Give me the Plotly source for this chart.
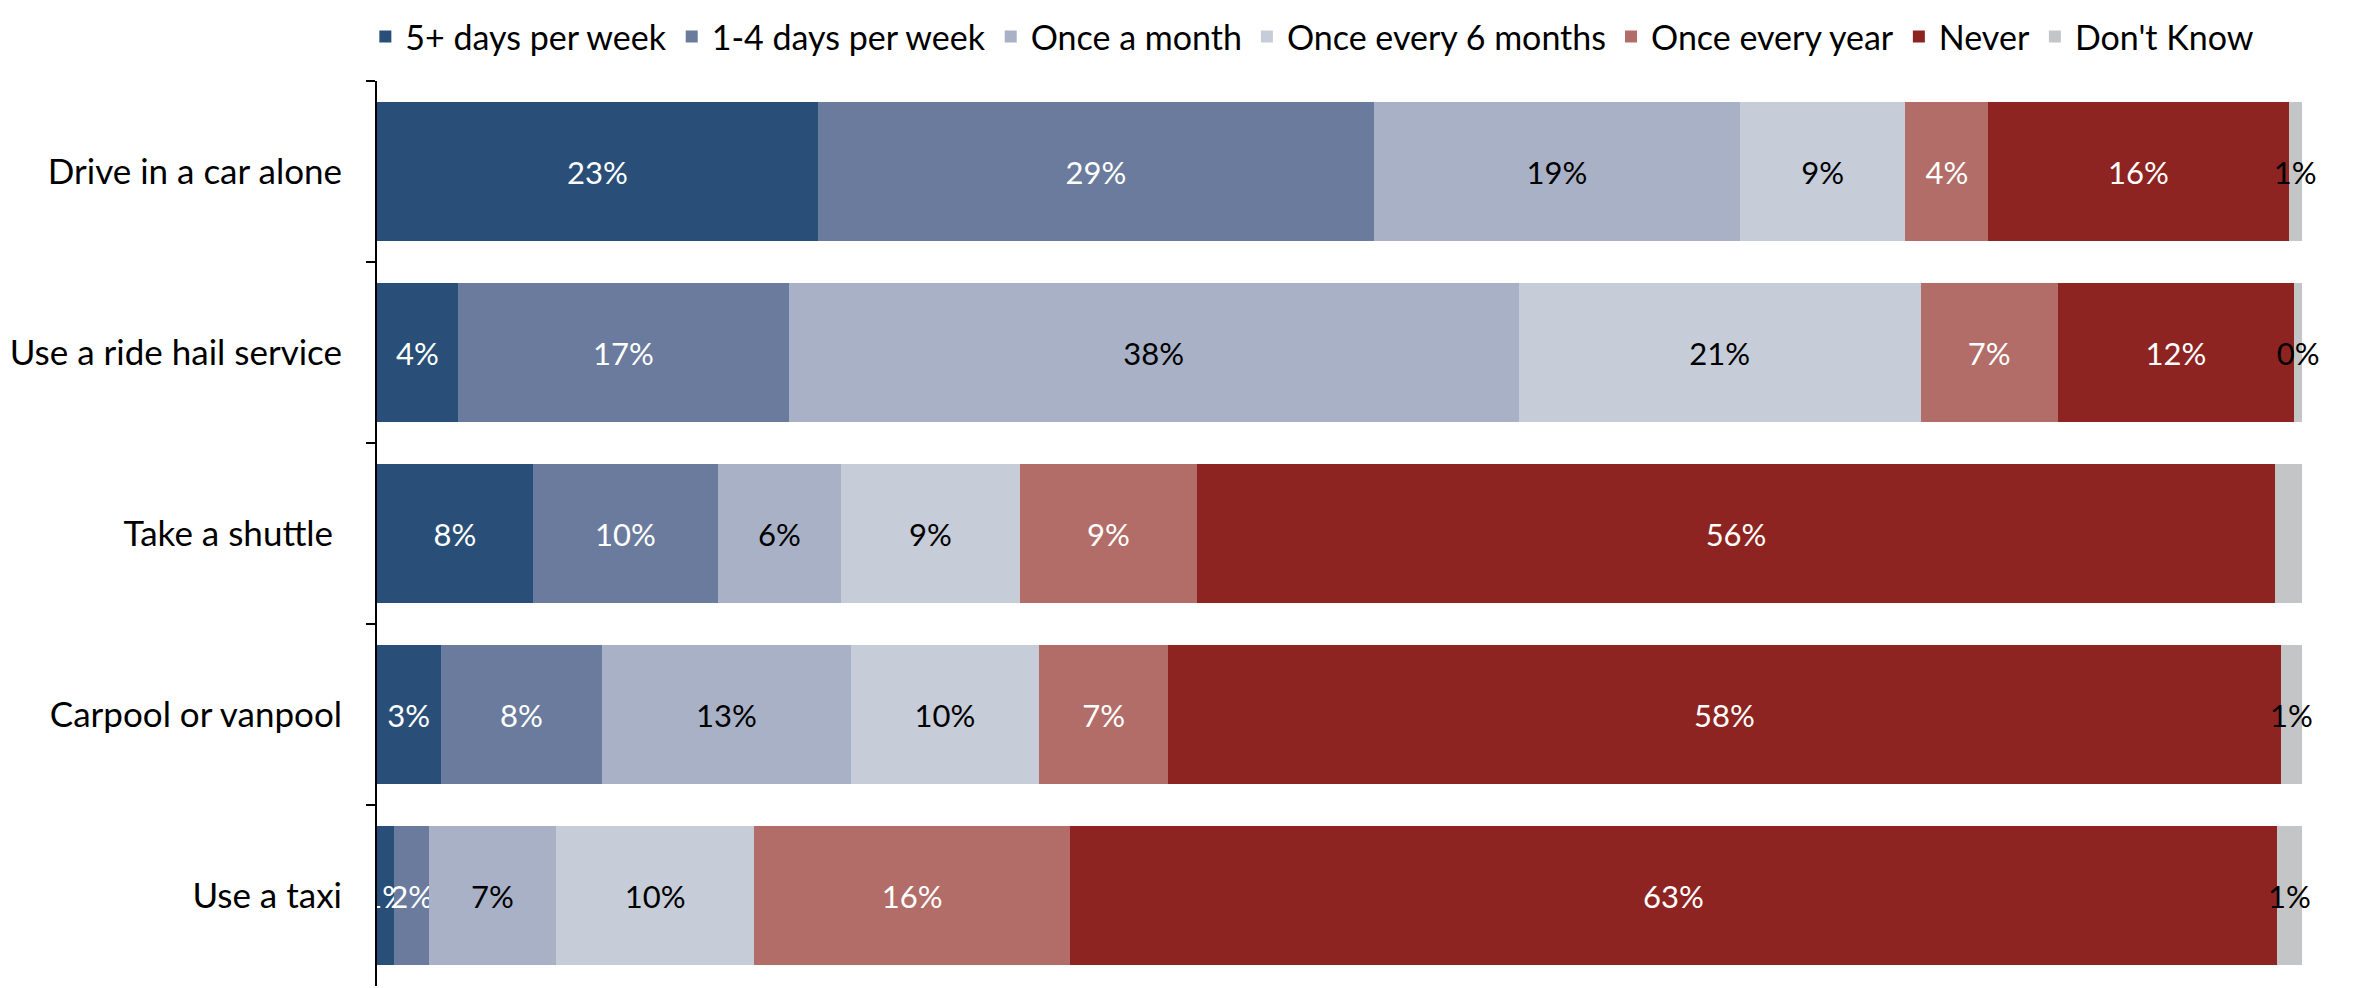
import plotly.graph_objects as go

categories = ["Drive in a car alone", "Use a ride hail service", "Take a shuttle ",
              "Carpool or vanpool", "Use a taxi"]
series_names = ["5+ days per week", "1-4 days per week", "Once a month",
                "Once every 6 months", "Once every year", "Never", "Don't Know"]

days5_per_week = [22.9, 4.2, 8.1, 3.3, 0.9]
days1_4_per_week = [28.9, 17.2, 9.6, 8.4, 1.8]
once_a_month = [19.0, 37.9, 6.4, 12.9, 6.6]
once_every_6_months = [8.6, 20.9, 9.3, 9.8, 10.3]
once_every_year = [4.3, 7.1, 9.2, 6.7, 16.4]
never = [15.6, 12.3, 56.0, 57.8, 62.7]
dont_know = [0.7, 0.4, 1.4, 1.1, 1.3]

series_values = [days5_per_week, days1_4_per_week, once_a_month, once_every_6_months,
                 once_every_year, never, dont_know]
colors = ["#294F78", "#6B7B9E", "#A9B1C6", "#C6CCD8", "#B36D68", "#8E2422", "#C4C5C7"]
label_colors = ["white", "white", "black", "black", "white", "white", "black"]

FONT = "Lato"
fig = go.Figure()
for name, vals, col, lc in zip(series_names, series_values, colors, label_colors):
    fig.add_trace(go.Bar(
        y=categories, x=vals, name=name,
        orientation="h",
        marker=dict(color=col, line=dict(width=0)),
        texttemplate="%{x:.0f}%", textposition="inside", insidetextanchor="middle",
        textangle=0, constraintext="none", cliponaxis=False,
        textfont=dict(color=lc, size=31, family=FONT),
        hoverinfo="skip",
    ))

# page body has an 8px default margin, so the figure is offset by 8px
fig.update_layout(
    barmode="stack", bargap=0.232,
    width=2351, height=980,
    margin=dict(l=369, r=57, t=73, b=2, pad=0),
    plot_bgcolor="white", paper_bgcolor="white",
    font=dict(family=FONT, size=33, color="black"),
    legend=dict(orientation="h", xref="container", x=0.152, xanchor="left",
                yref="container", y=1.0, yanchor="top",
                font=dict(size=34, family=FONT), itemwidth=30,
                traceorder="normal", tracegroupgap=0),
    showlegend=True,
)
fig.update_xaxes(range=[0, 100], visible=False, fixedrange=True)
fig.update_yaxes(autorange="reversed", showline=True, linecolor="black", linewidth=2,
                 ticks="outside", tickson="boundaries", ticklen=9, tickcolor="black",
                 tickwidth=1.5, showgrid=False, ticklabelstandoff=26,
                 tickfont=dict(size=35, family=FONT, color="black"))

fig.write_html("out.html")
